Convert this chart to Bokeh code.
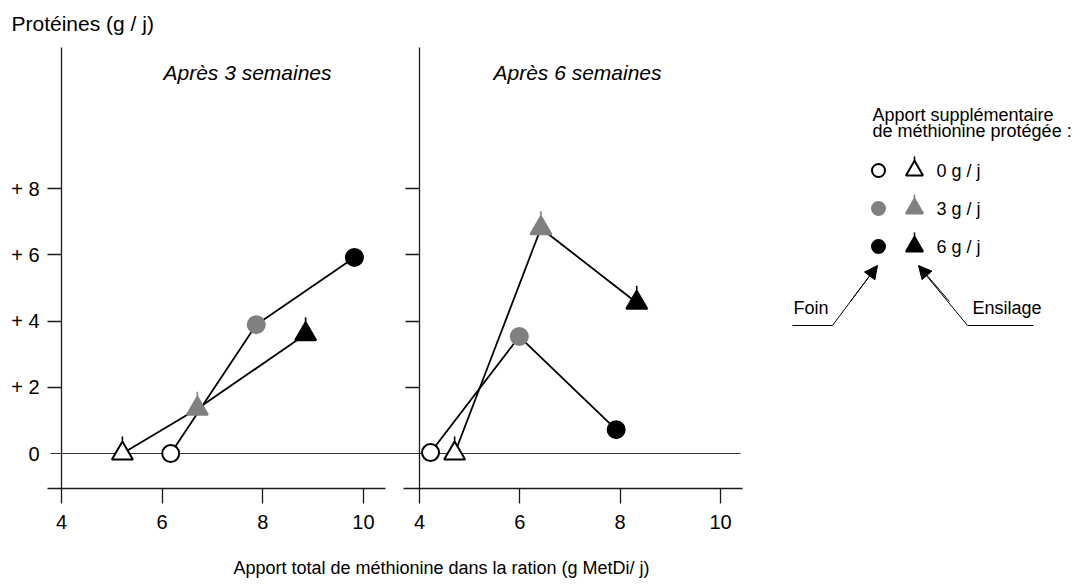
import math
from bokeh.plotting import figure
from bokeh.models import (Range1d, LinearAxis, FixedTicker, Arrow, NormalHead)
from bokeh.core.properties import value
from bokeh.embed import file_html
from bokeh.resources import INLINE

# ---------------- data ----------------
doses = ["0 g / j", "3 g / j", "6 g / j"]
marker_fill = ["white", "#808080", "black"]
marker_line = ["black", "#808080", "black"]

# Après 3 semaines
foin3_x = [6.17, 7.87, 9.82]
foin3_y = [0.0, 3.89, 5.92]
ens3_x = [5.21, 6.70, 8.85]
ens3_y = [0.0, 1.35, 3.60]
# Après 6 semaines
foin6_x = [4.22, 5.99, 7.92]
foin6_y = [0.03, 3.53, 0.72]
ens6_x = [4.70, 6.42, 8.33]
ens6_y = [0.0, 6.80, 4.55]

x_ticks = [4, 6, 8, 10]
y_ticks = [2, 4, 6, 8]
y_tick_labels = {2: "+ 2", 4: "+ 4", 6: "+ 6", 8: "+ 8"}

title_y = "Protéines (g / j)"
title_x = "Apport total de méthionine dans la ration (g MetDi/ j)"
panel_titles = ["Après 3 semaines", "Après 6 semaines"]
legend_title = ["Apport supplémentaire", "de méthionine protégée :"]
pointer_labels = ["Foin", "Ensilage"]

FONT = "Liberation Sans"
FONT_V = value(FONT)

# ---------------- layout (page pixels) ----------------
W, H = 1077, 587
PX_L, PX_R = 0, W
PY_T, PY_B = 0, H

# y calibration: value 0 at page y 453, 33.125 px per unit
Y0, YS = 453.0, 33.125
# left panel x: 4 at page 61 ; right panel x: 4 at page 419
XL0, XLS = 61.0, 50.33
XR0, XRS = 419.0, 50.17

def yv(py):
    return (Y0 - py) / YS

def xl(px):
    return 4 + (px - XL0) / XLS

def xr(px):
    return 4 + (px - XR0) / XRS

p = figure(width=W, height=H, output_backend="svg", toolbar_location=None,
           x_axis_type=None, y_axis_type=None, title=None,
           x_range=Range1d(xl(PX_L), xl(PX_R)),
           y_range=Range1d(yv(PY_B), yv(PY_T)),
           min_border=0, min_border_left=0, min_border_right=0,
           min_border_top=0, min_border_bottom=0)
p.outline_line_color = None
p.grid.visible = False
p.background_fill_color = "white"
p.border_fill_color = "white"
p.extra_x_ranges = {"r": Range1d(xr(PX_L), xr(PX_R)), "px": Range1d(PX_L, PX_R)}
p.extra_y_ranges = {"py": Range1d(PY_B, PY_T)}

AX_COLOR = "#1a1a1a"
y_axis_low = yv(488)
y_axis_top = yv(47)
TICK_FONT = "20px"

def style_axis(ax):
    ax.axis_line_color = AX_COLOR
    ax.axis_line_width = 1.3
    ax.major_tick_line_color = AX_COLOR
    ax.major_tick_line_width = 1.3
    ax.minor_tick_line_color = None
    ax.major_tick_in = 0
    ax.major_label_text_font = FONT
    ax.major_label_text_font_size = TICK_FONT
    ax.major_label_text_color = "black"

# left panel axes
ax = LinearAxis(fixed_location=4, bounds=(y_axis_low, y_axis_top),
                ticker=FixedTicker(ticks=y_ticks),
                major_label_overrides=y_tick_labels)
style_axis(ax)
ax.major_tick_out = 14
ax.major_label_standoff = 8
p.add_layout(ax, "left")

ax0 = LinearAxis(fixed_location=4, ticker=FixedTicker(ticks=[0]),
                 bounds=(-0.5, 0.5))
style_axis(ax0)
ax0.axis_line_color = None
ax0.major_tick_line_color = None
ax0.major_tick_out = 14
ax0.major_label_standoff = 8
p.add_layout(ax0, "left")

bx = LinearAxis(fixed_location=y_axis_low, bounds=(xl(47), xl(385)),
                ticker=FixedTicker(ticks=x_ticks))
style_axis(bx)
bx.major_tick_out = 15
bx.major_label_standoff = 11
p.add_layout(bx, "below")

# right panel axes
ax2 = LinearAxis(fixed_location=4, x_range_name="r", bounds=(y_axis_low, y_axis_top),
                 ticker=FixedTicker(ticks=y_ticks))
style_axis(ax2)
ax2.major_tick_out = 14
ax2.major_label_text_font_size = "0px"
ax2.major_label_text_color = None
p.add_layout(ax2, "left")

bx2 = LinearAxis(fixed_location=y_axis_low, x_range_name="r", bounds=(xr(403), xr(742)),
                 ticker=FixedTicker(ticks=x_ticks))
style_axis(bx2)
bx2.major_tick_out = 15
bx2.major_label_standoff = 11
p.add_layout(bx2, "below")

# zero reference line across both panels
p.segment(x0=[50], y0=[0], x1=[740], y1=[0], x_range_name="px",
          line_color="#333333", line_width=1)

LW = 1.8

def series(xs, ys, rng, kind):
    p.line(xs, ys, x_range_name=rng, line_color="black", line_width=LW)
    if kind == "circle":
        p.scatter(xs, ys, x_range_name=rng, marker="circle", size=17,
                  fill_color=marker_fill, line_color=marker_line, line_width=2)
    else:
        p.ray(xs, ys, x_range_name=rng, length=17, length_units="screen",
              angle=math.pi / 2, line_color=marker_line, line_width=1.6)
        p.scatter(xs, ys, x_range_name=rng, marker="triangle", size=21,
                  fill_color=marker_fill, line_color=marker_line, line_width=2)

series(foin3_x, foin3_y, "default", "circle")
series(ens3_x, ens3_y, "default", "triangle")
series(foin6_x, foin6_y, "r", "circle")
series(ens6_x, ens6_y, "r", "triangle")

# ---------------- texts ----------------
def txt(x, y, s, size="18px", align="left", style="normal"):
    p.text(x=[x], y=[y], text=[s], x_range_name="px", y_range_name="py",
           text_font=FONT_V, text_font_size=size, text_align=align,
           text_baseline="middle", text_font_style=style, text_color="black")

txt(11, 23, title_y, size="21px")
txt(247, 72, panel_titles[0], size="21px", align="center", style="italic")
txt(577, 72, panel_titles[1], size="21px", align="center", style="italic")
txt(441, 567, title_x, size="18px", align="center")

txt(872, 114, legend_title[0], size="18px")
txt(872, 130, legend_title[1], size="18px")

rows_y = [170, 208, 246]
p.scatter([878] * 3, rows_y, x_range_name="px", y_range_name="py", marker="circle",
          size=13, fill_color=marker_fill, line_color=marker_line, line_width=2)
p.ray([914] * 3, rows_y, x_range_name="px", y_range_name="py", length=14,
      length_units="screen", angle=math.pi / 2, line_color=marker_line, line_width=1.6)
p.scatter([914] * 3, rows_y, x_range_name="px", y_range_name="py", marker="triangle",
          size=17, fill_color=marker_fill, line_color=marker_line, line_width=2)
for yy, lab in zip(rows_y, doses):
    txt(936, yy, lab, size="18px")

txt(793, 307, pointer_labels[0], size="18px")
txt(972, 307, pointer_labels[1], size="18px")

p.line([792, 832, 870], [325, 325, 274], x_range_name="px", y_range_name="py",
       line_color="black", line_width=1)
p.line([1033, 967, 925], [325, 325, 274], x_range_name="px", y_range_name="py",
       line_color="black", line_width=1)
for (xa, ya, xb, yb) in [(850, 301, 877, 265), (949, 301, 918, 265)]:
    p.add_layout(Arrow(x_start=xa, y_start=ya, x_end=xb, y_end=yb,
                       x_range_name="px", y_range_name="py", line_color="black",
                       line_width=1, end=NormalHead(size=13, fill_color="black",
                                                    line_color="black")))

open("out.html", "w").write(file_html(p, INLINE))
